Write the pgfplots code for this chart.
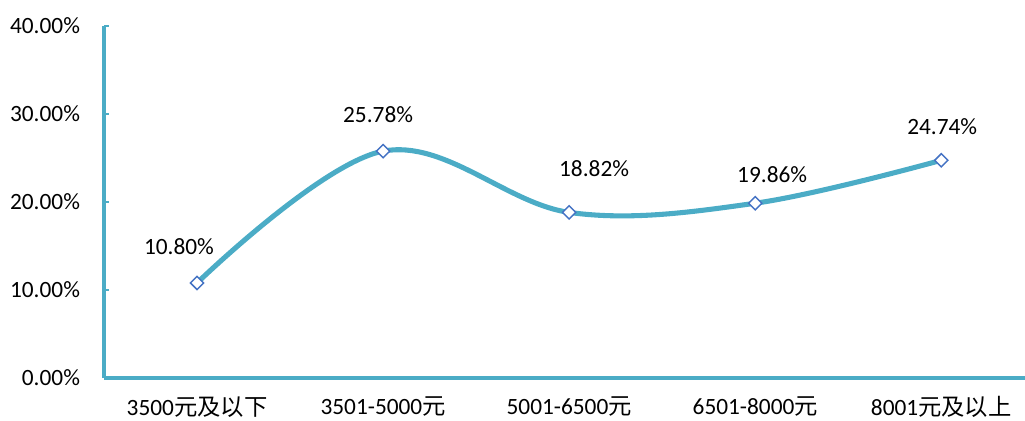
\documentclass[border=0pt]{standalone}
\usepackage{fontspec}
\setmainfont{Carlito}
\newfontfamily\cjk{Noto Sans CJK SC}
\usepackage{pgfplots}
\pgfplotsset{compat=1.18}
\definecolor{linecol}{RGB}{75,172,198}
\definecolor{markcol}{RGB}{68,114,196}
\begin{document}
\fontsize{17.5}{21}\selectfont
\begin{tikzpicture}
\begin{axis}[
  scale only axis,
  width=690.75pt, height=264pt,
  xmin=-0.5, xmax=4.45,
  ymin=0, ymax=40,
  axis x line*=bottom, axis y line*=left,
  every outer x axis line/.append style={linecol, line width=2.4pt},
  every outer y axis line/.append style={linecol, line width=2.4pt},
  /pgf/number format/assume math mode=true,
  xtick={0,1,2,3,4},
  xticklabels={3500{\cjk 元及以下}, 3501-5000{\cjk 元}, 5001-6500{\cjk 元}, 6501-8000{\cjk 元}, 8001{\cjk 元及以上}},
  x tick style={draw=none},
  minor xtick={0.5,1.5,2.5,3.5},
  minor x tick style={linecol, line width=2pt},
  minor tick length=4pt,
  x tick label style={yshift=-8pt},
  ytick={0,10,20,30,40},
  yticklabel={\pgfmathprintnumber[fixed,fixed zerofill,precision=2]{\tick}\%},
  y tick style={linecol, line width=2pt},
  major tick length=4pt,
  tick align=inside,
  y tick label style={xshift=-12pt},
  clip=false,
]
\addplot[linecol, line width=3.8pt, smooth, tension=0.6] coordinates {
  (0,10.80) (1,25.78) (2,18.82) (3,19.86) (4,24.74)
};
\addplot[draw=none, mark=square*, mark size=3.5pt,
  mark options={rotate=45, fill=white, draw=markcol, line width=1.1pt}] coordinates {
  (0,10.80) (1,25.78) (2,18.82) (3,19.86) (4,24.74)
};
% data label positions
\addplot[draw=none, mark=none,
  nodes near coords={\pgfmathprintnumber[fixed,fixed zerofill,precision=2]{\pgfplotspointmeta}\%},
  nodes near coords style={anchor=center, text=black},
  point meta=explicit] coordinates {
  (-0.097,14.89) [10.80] (0.973,29.89) [25.78] (2.134,23.75) [18.82] (3.091,23.07) [19.86] (4.005,28.52) [24.74]
};
\end{axis}
\pgfresetboundingbox
\path[use as bounding box] (-78pt,-32.25pt) rectangle (690.75pt,283.5pt);
\end{tikzpicture}
\end{document}
